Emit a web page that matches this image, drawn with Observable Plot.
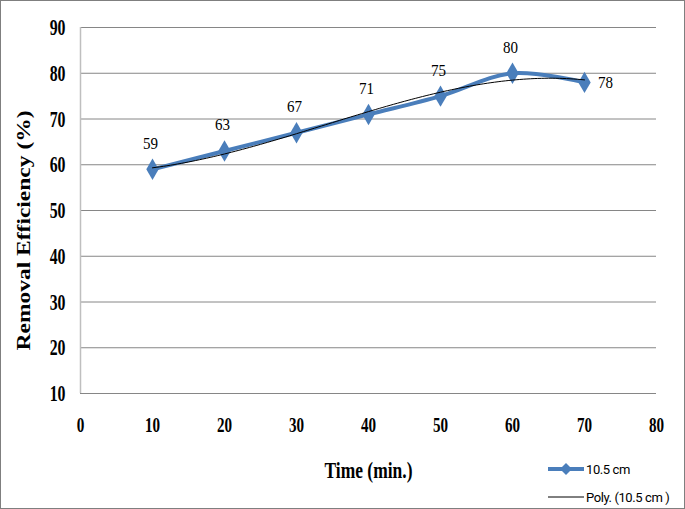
<!DOCTYPE html>
<html><head><meta charset="utf-8">
<script src="https://cdn.jsdelivr.net/npm/d3@7"></script>
<script src="https://cdn.jsdelivr.net/npm/@observablehq/plot@0.6"></script>
<style>
body{margin:0;background:#fff;}
#wrap{position:relative;width:685px;height:509px;overflow:hidden;}
#frame{position:absolute;left:0;top:0;width:683px;height:507px;border:1px solid #7f7f7f;pointer-events:none;}
#legend{position:absolute;left:548px;top:455px;font-family:"Roboto","Liberation Sans",sans-serif;font-size:13px;color:#000;letter-spacing:-0.4px;}
#legend div{display:flex;align-items:center;height:28px;}
</style></head>
<body><div id="wrap"><div id="chart"></div>
<div id="legend">
<div><svg width="38" height="14"><line x1="0" x2="36" y1="7" y2="7" stroke="#4a7ebb" stroke-width="4"/><path d="M18,1 L24,7 L18,13 L12,7Z" fill="#4a7ebb"/></svg><span>10.5 cm</span></div>
<div><svg width="38" height="14"><line x1="0" x2="36" y1="7" y2="7" stroke="#000" stroke-width="1"/></svg><span>Poly. (10.5 cm )</span></div>
</div>
<div id="frame"></div></div>
<script>
const times = [10, 20, 30, 40, 50, 60, 70];
const efficiency = [59, 63, 67, 71, 75, 80, 78];
const xTicks = [0, 10, 20, 30, 40, 50, 60, 70, 80];
const yTicks = [10, 20, 30, 40, 50, 60, 70, 80, 90];
const xTitle = "Time (min.)";
const yTitle = "Removal Efficiency (%)";
const seriesName = "10.5 cm";

const data = times.map((t, i) => ({time: t, eff: efficiency[i]}));

// cubic polynomial least-squares trendline (Excel "Poly." trendline)
function polyFit(xs, ys, deg) {
  const n = deg + 1;
  const A = Array.from({length: n}, () => new Array(n + 1).fill(0));
  for (let k = 0; k < xs.length; k++) {
    for (let i = 0; i < n; i++) {
      for (let j = 0; j < n; j++) A[i][j] += Math.pow(xs[k], i + j);
      A[i][n] += ys[k] * Math.pow(xs[k], i);
    }
  }
  for (let i = 0; i < n; i++) {
    let p = i;
    for (let r = i + 1; r < n; r++) if (Math.abs(A[r][i]) > Math.abs(A[p][i])) p = r;
    [A[i], A[p]] = [A[p], A[i]];
    for (let r = 0; r < n; r++) {
      if (r === i) continue;
      const f = A[r][i] / A[i][i];
      for (let c = i; c <= n; c++) A[r][c] -= f * A[i][c];
    }
  }
  return A.map((row, i) => row[n] / row[i]);
}
const coef = polyFit(times, efficiency, 3);
const evalPoly = x => coef.reduce((s, c, i) => s + c * Math.pow(x, i), 0);
const trend = d3.range(times[0], times[times.length - 1] + 0.001, 0.5).map(x => ({time: x, eff: evalPoly(x)}));

const serif = "Liberation Serif";
const chart = Plot.plot({
  width: 685, height: 509,
  marginLeft: 80, marginRight: 29, marginTop: 27, marginBottom: 116,
  style: {background: "transparent"},
  x: {domain: [0, 80], ticks: xTicks},
  y: {domain: [10, 90], ticks: yTicks},
  marks: [
    Plot.gridY(yTicks, {stroke: "#868686", strokeOpacity: 1, strokeWidth: 1}),
    Plot.ruleX([0], {stroke: "#bfbfbf", strokeWidth: 1.5}),
    Plot.axisY({ticks: yTicks, tickSize: 0, tickPadding: 15, fontSize: 24, fontWeight: "bold", fontFamily: serif, label: null}),
    Plot.axisX({ticks: xTicks, tickSize: 0, tickPadding: 24, fontSize: 21, fontWeight: "bold", fontFamily: serif, label: null}),
    Plot.text([yTitle], {frameAnchor: "left", textAnchor: "middle", dx: -57, dy: 20, rotate: -90, fontSize: 19, fontWeight: "bold", fontFamily: serif}),
    Plot.text([xTitle], {frameAnchor: "bottom", dy: 84, fontSize: 24, fontWeight: "bold", fontFamily: serif}),
    Plot.line(data, {x: "time", y: "eff", stroke: "#4a7ebb", strokeWidth: 4, curve: "catmull-rom"}),
    Plot.dot(data, {x: "time", y: "eff", symbol: "diamond", r: 6.5, fill: "#4a7ebb", stroke: "none"}),
    Plot.line(trend, {x: "time", y: "eff", stroke: "#000", strokeWidth: 1}),
    Plot.text(data.slice(0, -1), {x: "time", y: "eff", text: d => String(d.eff), dy: -26, dx: -2, fontSize: 17, fontFamily: serif}),
    Plot.text(data.slice(-1), {x: "time", y: "eff", text: d => String(d.eff), dx: 21, fontSize: 17, fontFamily: serif})
  ]
});
document.getElementById("chart").appendChild(chart);

// horizontally condense text to mimic the narrow rendering of the original
function squeeze(nodes, f) {
  nodes.each(function () {
    const w = this.getComputedTextLength();
    this.setAttribute("textLength", (w * f).toFixed(1));
    this.setAttribute("lengthAdjust", "spacingAndGlyphs");
  });
}
const svg = d3.select(chart);
squeeze(svg.selectAll('g[aria-label="y-axis tick label"] text'), 0.66);
squeeze(svg.selectAll('g[aria-label="x-axis tick label"] text'), 0.72);
svg.selectAll("text").filter(function () { return this.textContent === xTitle; })
  .attr("textLength", 88).attr("lengthAdjust", "spacingAndGlyphs");
squeeze(svg.selectAll("text").filter(function () { return /^\d+$/.test(this.textContent) && !this.closest('g[aria-label$="tick label"]'); }), 0.88);
svg.selectAll("text").filter(function () { return this.textContent === yTitle; })
  .attr("textLength", 240).attr("lengthAdjust", "spacingAndGlyphs");
</script></body></html>
